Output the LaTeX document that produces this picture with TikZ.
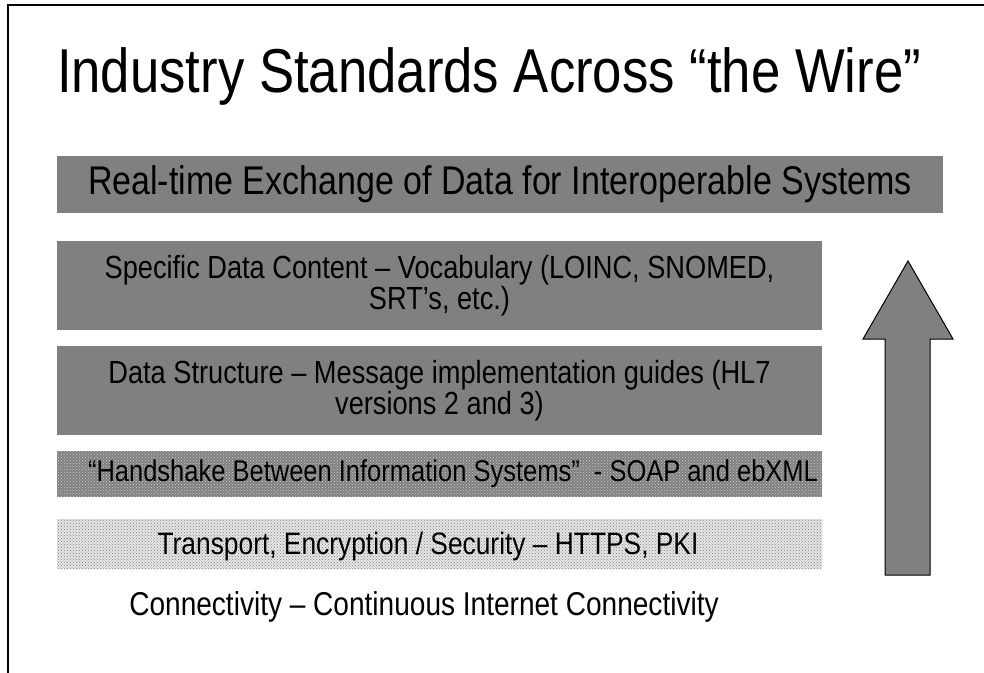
\documentclass[tikz,border=0pt]{standalone}
\usepackage{fontspec}
\setmainfont{Liberation Sans}[FakeStretch=0.85]
\usepackage{tikz}
\usetikzlibrary{patterns}

\begin{document}
\begin{tikzpicture}[x=1pt,y=-1pt,
		layer/.style={fill=gray,minimum width=765pt,inner sep=0pt,align=center,font=\fontsize{32}{31}\selectfont},
		label text/.style={inner sep=0pt,font=\fontsize{#1}{#1}\selectfont}]
	\useasboundingbox (0,0) rectangle (984,672);
	\draw [line width=1.5pt] (8,680) -- (8,5) -- (990,5);
	
	\node [anchor=base,font=\fontsize{62}{70}\selectfont] (title) at (489,92) {Industry Standards Across “the Wire”};
	
	\node [layer,minimum width=886pt,minimum height=57pt,font=\fontsize{40}{44}\selectfont] (exchange) at (500,184.5) {Real-time Exchange of Data for Interoperable Systems};
	\node [layer,minimum height=89pt] (content) at (439.5,285.5) {Specific Data Content – Vocabulary (LOINC, SNOMED,\\SRT’s, etc.)};
	\node [layer,minimum height=89pt] (structure) at (439.5,390.5) {Data Structure – Message implementation guides (HL7\\versions 2 and 3)};
	
	\fill [gray] (57,451) rectangle (822,497);
	\fill [pattern=crosshatch dots,pattern color=white!60!gray] (57,451) rectangle (822,497);
	\node [label text=30] (handshake) at (453,474) {“Handshake Between Information Systems”\ \ - SOAP and ebXML};
	
	\fill [white!80!gray] (57,519) rectangle (822,569);
	\fill [pattern=crosshatch dots,pattern color=gray] (57,519) rectangle (822,569);
	\node [label text=31] (transport) at (428,546) {Transport, Encryption / Security – HTTPS, PKI};
	
	\node [label text=33] (connect) at (424,607) {Connectivity – Continuous Internet Connectivity};
	
	% upward arrow
	\draw [fill=gray,line width=1pt] (885,575) -- (885,339) -- (863,339) -- (908,261) -- (953,339) -- (930,339) -- (930,575) -- cycle;
\end{tikzpicture}
\end{document}
